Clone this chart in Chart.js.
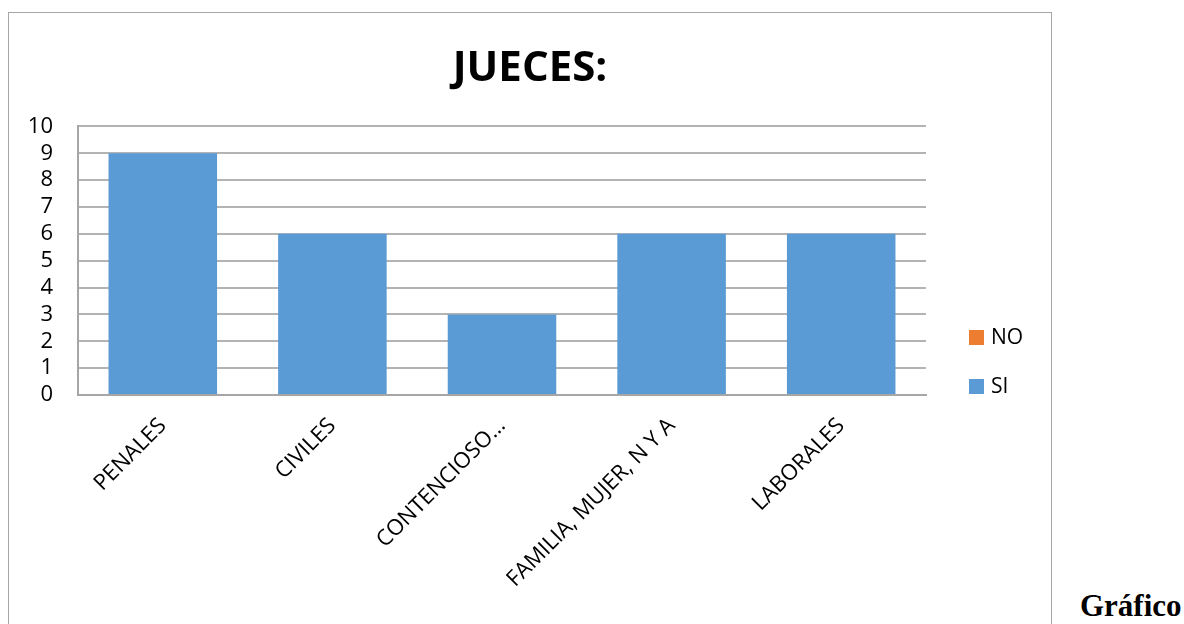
<!DOCTYPE html>
<html>
<head>
<meta charset="utf-8">
<script src="https://cdn.jsdelivr.net/npm/chart.js@4.4.1/dist/chart.umd.min.js"></script>
<style>
    html, body { margin: 0; padding: 0; background: #fff; overflow: hidden; }
    .chart-box {
        position: absolute; left: 8px; top: 12px;
        width: 1044px; height: 700px;
        border: 1px solid #a6a6a6; box-sizing: border-box;
    }
    .caption {
        position: absolute; left: 1080px; top: 588px;
        font-family: "Liberation Serif", "Times New Roman", serif;
        font-weight: bold; font-size: 31px; color: #000;
    }
</style>
</head>
<body>
<div class="chart-box"><canvas id="juecesChart"></canvas></div>
<div class="caption">Gráfico</div>
<script>
// Judges per court area
const categories = ['PENALES', 'CIVILES', 'CONTENCIOSO…', 'FAMILIA, MUJER, N Y A', 'LABORALES'];
const siValues = [9, 6, 3, 6, 6];
const noValues = [0, 0, 0, 0, 0];
const yTicks = [0, 1, 2, 3, 4, 5, 6, 7, 8, 9, 10];

const FONT = '"Open Sans", "Noto Sans", sans-serif';

// Legend on the right, drawn bottom-up like the spreadsheet one
const sideLegend = {
    id: 'sideLegend',
    afterDraw(chart) {
        const { ctx, chartArea } = chart;
        const items = chart.data.datasets.slice().reverse();
        ctx.save();
        ctx.font = '21px ' + FONT;
        ctx.textBaseline = 'middle';
        items.forEach((ds, i) => {
            const cy = chartArea.bottom - 58 + i * 49;
            const x = chartArea.right + 43;
            ctx.fillStyle = ds.backgroundColor;
            ctx.fillRect(x, cy - 7, 15, 15);
            ctx.fillStyle = '#000';
            ctx.fillText(ds.label, x + 22, cy + 1);
        });
        ctx.restore();
    }
};

const ctx = document.getElementById('juecesChart').getContext('2d');
new Chart(ctx, {
    type: 'bar',
    data: {
        labels: categories,
        datasets: [
            { label: 'SI', data: siValues, backgroundColor: '#5B9BD5' },
            { label: 'NO', data: noValues, backgroundColor: '#ED7D31' }
        ]
    },
    options: {
        responsive: true,
        maintainAspectRatio: false,
        animation: false,
        datasets: { bar: { categoryPercentage: 1, barPercentage: 0.64 } },
        layout: { padding: 0 },
        plugins: {
            legend: { display: false },
            tooltip: { enabled: false },
            title: {
                display: true,
                text: 'JUECES:',
                color: '#000',
                font: { family: FONT, size: 42, weight: 'bold', lineHeight: 1.2 },
                padding: { top: 31, bottom: 32 }
            }
        },
        scales: {
            x: {
                stacked: true,
                grid: { display: false, drawTicks: false },
                border: { display: true, color: '#a6a6a6', width: 2 },
                afterFit: (s) => { s.height = 316; },
                ticks: {
                    color: '#000',
                    font: { family: FONT, size: 22 },
                    minRotation: 45, maxRotation: 45,
                    autoSkip: false,
                    padding: 18
                }
            },
            y: {
                stacked: true,
                min: 0, max: 10,
                afterFit: (s) => { s.width = 69; },
                afterBuildTicks: (s) => { s.ticks = yTicks.map(v => ({ value: v })); },
                grid: { color: '#b3b3b3', lineWidth: 2, drawTicks: false },
                border: { display: true, color: '#a6a6a6', width: 2 },
                ticks: {
                    color: '#000',
                    font: { family: FONT, size: 22 },
                    autoSkip: false,
                    padding: 25
                }
            },
            // empty axis that keeps room for the legend on the right
            legendSpace: {
                position: 'right',
                display: true,
                afterFit: (s) => { s.width = 125; },
                grid: { display: false, drawTicks: false },
                border: { display: false },
                ticks: { display: false }
            }
        }
    },
    plugins: [sideLegend]
});
</script>
</body>
</html>
